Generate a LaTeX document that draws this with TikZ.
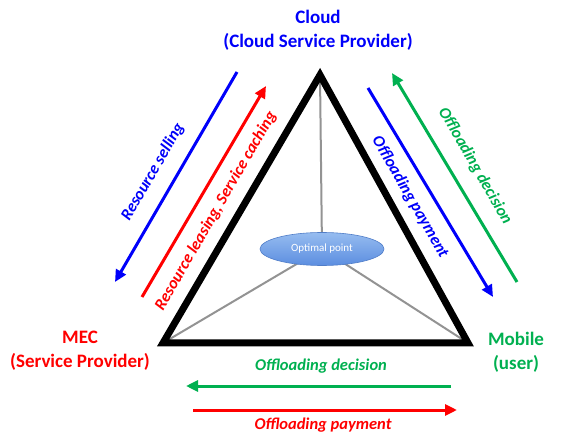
\documentclass[tikz,border=0pt]{standalone}
\usepackage{fontspec}
\setmainfont{Carlito}
\usetikzlibrary{arrows.meta}
\usetikzlibrary{shapes.geometric}
\definecolor{cloudblue}{RGB}{0,0,250}
\definecolor{mecred}{RGB}{255,0,0}
\definecolor{usergreen}{RGB}{0,176,80}
\definecolor{optedge}{RGB}{80,125,200}
\definecolor{opttop}{RGB}{150,188,240}
\definecolor{optbottom}{RGB}{92,142,224}

\begin{document}
\begin{tikzpicture}[x=1pt,y=-1pt]
    \tikzset{party/.style = {align=center,font=\bfseries\fontsize{19}{24}\selectfont}}
    \tikzset{flow/.style = {line width=3pt,-{Triangle[length=12pt,width=11pt]}}}
    \tikzset{flowtext/.style = {font=\bfseries\itshape\fontsize{16.5}{19}\selectfont}}
    \tikzset{spoke/.style = {line width=2pt,draw=gray!85}}

    \useasboundingbox (0,0) rectangle (562,435);

    % vertices
    \coordinate (cloud) at (320,75);
    \coordinate (mec) at (163,343);
    \coordinate (user) at (468,343);
    \coordinate (opt) at (322,249);

    \draw[spoke] (opt) -- (cloud);
    \draw[spoke] (opt) -- (mec);
    \draw[spoke] (opt) -- (user);
    \draw[line width=7pt,line join=miter] (cloud) -- (mec) -- (user) -- cycle;

    \node[ellipse,draw=optedge,line width=0.6pt,top color=opttop,bottom color=optbottom,
          minimum width=124pt,minimum height=33pt,inner sep=0pt,text=white,
          font=\fontsize{11}{13}\selectfont] (optimal) at (opt) {Optimal point};

    % parties
    \node[party,text=cloudblue] (cloudlbl) at (318,30) {Cloud\\(Cloud Service Provider)};
    \node[party,text=mecred] (meclbl) at (80,351) {MEC\\(Service Provider)};
    \node[party,text=usergreen] (userlbl) at (516,352) {Mobile\\(user)};

    % cloud -- mec
    \coordinate (a1) at (237,72);
    \coordinate (a2) at (115,282);
    \coordinate (b1) at (142,297);
    \coordinate (b2) at (266,86);
    \draw[flow,cloudblue] (a1) -- (a2);
    \draw[flow,mecred] (b1) -- (b2);
    \node[flowtext,text=cloudblue,rotate=60] (selling) at (153,172) {Resource selling};
    \node[flowtext,text=mecred,rotate=60] (leasing) at (216,211) {Resource leasing, Service caching};

    % cloud -- user
    \coordinate (c1) at (368,88);
    \coordinate (c2) at (493,297);
    \coordinate (d1) at (517,282);
    \coordinate (d2) at (392,73);
    \draw[flow,cloudblue] (c1) -- (c2);
    \draw[flow,usergreen] (d1) -- (d2);
    \node[flowtext,text=cloudblue,rotate=-60] (payup) at (410,197) {Offloading payment};
    \node[flowtext,text=usergreen,rotate=-60] (decup) at (475,166) {Offloading decision};

    % mec -- user
    \coordinate (e1) at (451,386);
    \coordinate (e2) at (186,386);
    \coordinate (f1) at (193,410);
    \coordinate (f2) at (457,410);
    \draw[flow,usergreen] (e1) -- (e2);
    \draw[flow,mecred] (f1) -- (f2);
    \node[flowtext,text=usergreen] (decbot) at (321,366) {Offloading decision};
    \node[flowtext,text=mecred] (paybot) at (323,425) {Offloading payment};
\end{tikzpicture}
\end{document}
